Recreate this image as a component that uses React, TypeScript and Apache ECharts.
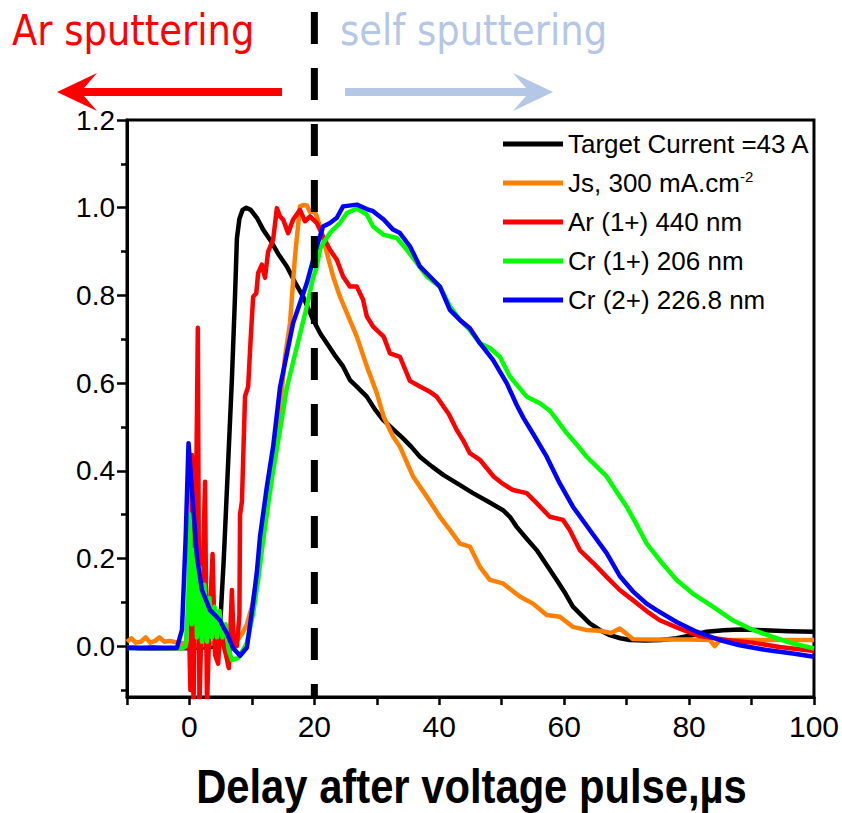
import React, { useEffect, useRef } from "react";
import * as echarts from "echarts";

const seriesNames = [
  "Target Current =43 A",
  "Js, 300 mA.cm-2",
  "Ar (1+) 440 nm",
  "Cr (1+) 206 nm",
  "Cr (2+) 226.8 nm",
];
const seriesColors = ["#000000", "#ff8000", "#ff0000", "#00ff00", "#0000ff"];

const xTickLabels = [0, 20, 40, 60, 80, 100];
const xTicks = [-10, 0, 10, 20, 30, 40, 50, 60, 70, 80, 90, 100];
const yTickLabels = [0, 0.2, 0.4, 0.6, 0.8, 1.0, 1.2];
const yMinorTicks = [-0.1, 0.1, 0.3, 0.5, 0.7, 0.9, 1.1];
const xMin = -10;
const xMax = 100;
const yMin = -0.116;
const yMax = 1.2;
const dividerX = 20;

const targetCurrent = [
  [-10, -0.003], [-8, -0.004], [-6, -0.003], [-4, -0.004], [-2, -0.004], [0, -0.005], [2, -0.003], [3.5, -0.002],
  [4.5, 0.01], [4.9, 0.043], [5.5, 0.2], [6.2, 0.42], [6.8, 0.61], [7.3, 0.8], [7.6, 0.93], [8.0, 0.975], [8.5, 0.995],
  [9.1, 1.0], [9.8, 0.995], [10.8, 0.977], [11.8, 0.95], [12.9, 0.927], [14.2, 0.895], [15.6, 0.866], [16.9, 0.83],
  [18.2, 0.797], [19.8, 0.744], [21, 0.712], [22, 0.691], [23.2, 0.665], [24.6, 0.638], [25.7, 0.607], [26.8, 0.592],
  [28.4, 0.569], [29.7, 0.54], [31, 0.516], [32.6, 0.495], [34.2, 0.474], [35.5, 0.455], [36.9, 0.432], [38.8, 0.41],
  [40.7, 0.39], [43, 0.37], [45.4, 0.349], [47.8, 0.33], [50.2, 0.31], [51.3, 0.295], [52.4, 0.272], [54, 0.245],
  [55.6, 0.219], [57.2, 0.185], [58.8, 0.151], [60.2, 0.12], [61.4, 0.09], [62.8, 0.07], [64.1, 0.052], [65.7, 0.037],
  [67.3, 0.025], [69, 0.018], [70.5, 0.014], [73, 0.013], [75.5, 0.014], [78, 0.018], [80.5, 0.025], [82.8, 0.033],
  [85.5, 0.036], [88.1, 0.038], [92, 0.036], [96, 0.034], [100, 0.033],
];

const jsCurrent = [
  [-10, 0.01], [-9.3, 0.018], [-8.6, 0.008], [-7.8, 0.01], [-7.0, 0.02], [-6.3, 0.008], [-5.5, 0.012], [-4.8, 0.02],
  [-4.0, 0.01], [-3.2, 0.012], [-2.5, 0.01], [-1.5, 0.008], [-0.5, 0.005], [0.5, 0.006], [1.5, 0.0], [3, 0.005],
  [4.5, 0.008], [6, 0.008], [7, 0.01], [7.6, 0.012], [8.5, 0.03], [9.2, 0.05], [10, 0.09], [11, 0.17], [12, 0.27],
  [13, 0.38], [14, 0.49], [14.8, 0.584], [15.3, 0.66], [16.1, 0.737], [16.9, 0.889], [17.4, 0.96], [17.7, 1.003],
  [18.2, 1.006], [18.8, 1.005], [19.3, 0.99], [19.9, 0.995], [20.4, 0.98], [20.9, 0.957], [22, 0.897], [23, 0.843],
  [24.1, 0.797], [25.2, 0.76], [26.8, 0.706], [28.4, 0.638], [30, 0.577], [31.1, 0.523], [32.6, 0.478], [33.7, 0.455],
  [35.8, 0.387], [38, 0.341], [40.1, 0.295], [41.7, 0.265], [43.3, 0.234], [44.9, 0.227], [46.5, 0.181], [48.1, 0.151],
  [50.2, 0.143], [52.9, 0.113], [55, 0.097], [57.2, 0.071], [59.3, 0.067], [61.4, 0.044], [63.5, 0.037], [65.7, 0.035],
  [67.5, 0.03], [68.9, 0.04], [70, 0.028], [71, 0.016], [74, 0.015], [77, 0.015], [80, 0.015], [83.3, 0.014],
  [84.1, 0.0], [84.9, 0.014], [88, 0.014], [92, 0.014], [96, 0.014], [100, 0.014],
];

const ar440 = [
  [-10, -0.003], [-7, -0.005], [-4, -0.004], [-2, -0.005], [-0.5, -0.003], [0, 0.0], [0.15, -0.1], [0.4, 0.436],
  [0.65, -0.14], [1.0, 0.25], [1.34, 0.726], [1.6, -0.14], [2.0, 0.1], [2.5, 0.375], [2.8, -0.14], [3.2, 0.05],
  [3.7, 0.21], [4.1, -0.02], [4.6, -0.04], [5.0, 0.06], [5.5, 0.0], [6.0, -0.03], [6.3, -0.05], [6.8, 0.128],
  [7.1, 0.0], [7.6, 0.0], [8.0, 0.07], [8.1, 0.3], [8.4, 0.33], [8.9, 0.57], [9.4, 0.592], [9.8, 0.7], [10.2, 0.797],
  [10.7, 0.805], [11, 0.851], [11.6, 0.87], [12.1, 0.84], [12.6, 0.9], [13.4, 0.927], [14, 0.999], [14.5, 0.98],
  [15, 0.973], [15.8, 0.942], [16.6, 0.973], [17.7, 0.995], [18.5, 0.969], [19.3, 0.98], [20.4, 0.965], [21.4, 0.934],
  [22.5, 0.904], [23.6, 0.881], [24.6, 0.843], [25.7, 0.82], [26.8, 0.82], [27.8, 0.79], [28.4, 0.752], [29.4, 0.729],
  [31.1, 0.706], [32.1, 0.668], [33.7, 0.66], [35.3, 0.605], [36.9, 0.592], [38.5, 0.58], [39.6, 0.569], [40.7, 0.546],
  [41.5, 0.53], [42.8, 0.493], [43.8, 0.47], [44.9, 0.44], [46.5, 0.425], [48.7, 0.387], [50.2, 0.37], [51.8, 0.356],
  [54, 0.349], [55.6, 0.326], [57.7, 0.295], [59.8, 0.288], [60.9, 0.265], [62.5, 0.219], [64.7, 0.189], [66.8, 0.158],
  [68.9, 0.128], [71, 0.105], [73.2, 0.08], [75.3, 0.059], [78.5, 0.04], [81.7, 0.023], [86, 0.014], [90.2, 0.008],
  [94.5, -0.002], [100, -0.011],
];

const cr206 = [
  [-10, -0.004], [-6, -0.005], [-3, -0.004], [-1.2, -0.005], [-0.6, 0.0], [-0.2, 0.1], [0.1, 0.3], [0.4, 0.05],
  [0.8, 0.22], [1.2, 0.02], [1.6, 0.18], [2.0, 0.01], [2.4, 0.14], [2.8, 0.01], [3.2, 0.11], [3.6, 0.02], [4.0, 0.09],
  [4.4, 0.02], [4.8, 0.08], [5.3, 0.02], [5.8, 0.05], [6.3, -0.01], [6.8, -0.032], [7.8, -0.027], [8.5, -0.01],
  [9.2, 0.007], [10.2, 0.075], [11, 0.151], [11.7, 0.23], [12.4, 0.303], [13.4, 0.4], [14.5, 0.493], [15.6, 0.59],
  [17.2, 0.683], [18.8, 0.775], [19.8, 0.84], [20.4, 0.866], [20.9, 0.905], [21.4, 0.919], [22.5, 0.942], [23, 0.95],
  [24.1, 0.965], [25.2, 0.988], [26.8, 0.998], [28.4, 0.984], [29.4, 0.957], [31.1, 0.938], [33.2, 0.931], [34.8, 0.904],
  [36.4, 0.874], [38, 0.843], [40.1, 0.82], [41.7, 0.775], [43.3, 0.744], [44.9, 0.721], [46.5, 0.691], [48.1, 0.68],
  [49.7, 0.66], [51.3, 0.615], [54, 0.569], [56.1, 0.554], [57.7, 0.537], [60.4, 0.486], [62, 0.46], [63.6, 0.432],
  [66.8, 0.387], [68.5, 0.35], [70, 0.318], [71.5, 0.28], [73.2, 0.234], [75.3, 0.196], [78, 0.151], [80.6, 0.12],
  [83.8, 0.09], [87, 0.059], [89.7, 0.04], [93.4, 0.021], [96.6, 0.006], [100, -0.005],
];

const cr2268 = [
  [-10, -0.004], [-6, -0.005], [-3, -0.004], [-2, -0.004], [-1.2, 0.037], [-0.6, 0.25], [-0.15, 0.463], [0.4, 0.356],
  [1.2, 0.204], [2, 0.128], [3.3, 0.082], [4.9, 0.059], [5.4, 0.044], [6, 0.029], [7, -0.005], [8.1, -0.022],
  [9.2, -0.003], [10.2, 0.1], [10.8, 0.17], [11.3, 0.25], [12.4, 0.364], [13.4, 0.455], [14.5, 0.59], [16.6, 0.737],
  [18.8, 0.828], [20.4, 0.912], [21.4, 0.957], [22.5, 0.965], [23.6, 0.977], [24.6, 1.003], [26.8, 1.007], [28.4, 0.997],
  [29.4, 0.992], [31.1, 0.973], [32.6, 0.95], [33.7, 0.942], [35.3, 0.912], [36.9, 0.866], [38.5, 0.843], [40.1, 0.82],
  [41.7, 0.767], [43.3, 0.744], [44.9, 0.725], [46.5, 0.691], [48.6, 0.653], [50.8, 0.6], [52.4, 0.55], [53.5, 0.52],
  [55, 0.485], [57.2, 0.432], [59.3, 0.371], [61.4, 0.318], [64.1, 0.265], [66.8, 0.212], [68.9, 0.16], [71, 0.125],
  [73.2, 0.097], [74.8, 0.082], [78, 0.055], [81.2, 0.033], [84.9, 0.014], [88.1, 0.002], [92.4, -0.009], [96.6, -0.017],
  [100, -0.024],
];

const seriesData = [targetCurrent, jsCurrent, ar440, cr206, cr2268];

const LABEL_FONT = "'Liberation Sans', Arial, sans-serif";

export default function App() {
  const ref = useRef<HTMLDivElement>(null);

  useEffect(() => {
    document.body.style.margin = "0";
    if (!ref.current) return;
    const chart = echarts.init(ref.current, undefined, { renderer: "svg" });

    const option: any = {
      animation: false,
      backgroundColor: "#ffffff",
      grid: {
        left: 127,
        right: 28,
        top: 120,
        bottom: 116,
        show: true,
        borderColor: "#000",
        borderWidth: 3,
        backgroundColor: "transparent",
      },
      legend: {
        orient: "vertical",
        left: 503,
        top: 129,
        padding: 0,
        itemGap: 9,
        itemWidth: 60,
        itemHeight: 5,
        icon: "rect",
        data: seriesNames,
        formatter: (name: string) =>
          name === "Js, 300 mA.cm-2" ? "Js, 300 mA.cm{sup|-2}" : name,
        textStyle: {
          fontFamily: LABEL_FONT,
          fontSize: 26,
          color: "#000",
          lineHeight: 30,
          rich: {
            sup: {
              fontFamily: LABEL_FONT,
              fontSize: 15,
              color: "#000",
              padding: [0, 0, 14, 0],
            },
          },
        },
      },
      xAxis: {
        type: "value",
        min: xMin,
        max: xMax,
        splitLine: { show: false },
        axisLine: { show: true, onZero: false, lineStyle: { color: "#000", width: 3 } },
        axisTick: {
          show: true,
          customValues: xTicks,
          length: 8,
          inside: false,
          lineStyle: { color: "#000", width: 2.5 },
        },
        axisLabel: {
          customValues: xTickLabels,
          margin: 14,
          fontFamily: LABEL_FONT,
          fontSize: 30,
          color: "#000",
          formatter: (v: number) => String(v),
        },
      },
      yAxis: [
        {
          type: "value",
          min: yMin,
          max: yMax,
          position: "left",
          splitLine: { show: false },
          axisLine: { show: true, onZero: false, lineStyle: { color: "#000", width: 3 } },
          axisTick: {
            show: true,
            customValues: yTickLabels,
            length: 10,
            lineStyle: { color: "#000", width: 2.5 },
          },
          axisLabel: {
            customValues: yTickLabels,
            margin: 12,
            fontFamily: LABEL_FONT,
            fontSize: 28,
            color: "#000",
            formatter: (v: number) => v.toFixed(1),
          },
        },
        {
          type: "value",
          min: yMin,
          max: yMax,
          position: "left",
          offset: 0,
          splitLine: { show: false },
          axisLine: { show: false, onZero: false },
          axisTick: {
            show: true,
            customValues: yMinorTicks,
            length: 6,
            lineStyle: { color: "#000", width: 2.5 },
          },
          axisLabel: { show: false },
        },
      ],
      series: seriesNames.map((name, i) => ({
        name,
        type: "line",
        data: seriesData[i],
        showSymbol: false,
        symbol: "none",
        clip: true,
        color: seriesColors[i],
        lineStyle: { color: seriesColors[i], width: 4.5, join: "round" },
        z: 2 + i,
      })),
    };

    chart.setOption(option);

    const px = chart.convertToPixel({ xAxisIndex: 0 }, dividerX) as number;
    const bottom = chart.convertToPixel({ yAxisIndex: 0 }, yMin) as number;
    const left = chart.convertToPixel({ xAxisIndex: 0 }, xMin) as number;
    const right = chart.convertToPixel({ xAxisIndex: 0 }, xMax) as number;

    chart.setOption({
      graphic: [
        {
          type: "line",
          z: 100,
          shape: { x1: px, y1: 12, x2: px, y2: bottom },
          style: { stroke: "#000", lineWidth: 7, lineDash: [32, 24], lineCap: "butt" },
        },
        {
          type: "text",
          x: 12,
          y: 30,
          scaleX: 0.88,
          style: {
            text: "Ar sputtering",
            font: "42px 'DejaVu Sans', Verdana, sans-serif",
            fill: "#ff0000",
            textAlign: "left",
            textVerticalAlign: "middle",
          },
        },
        {
          type: "text",
          x: 340,
          y: 30,
          scaleX: 0.88,
          style: {
            text: "self sputtering",
            font: "42px 'DejaVu Sans', Verdana, sans-serif",
            fill: "#b4c7e7",
            textAlign: "left",
            textVerticalAlign: "middle",
          },
        },
        {
          type: "polygon",
          shape: {
            points: [
              [57, 92], [97, 73], [84, 88], [282, 88], [282, 96], [84, 96], [97, 111],
            ],
          },
          style: { fill: "#ff0000" },
        },
        {
          type: "polygon",
          shape: {
            points: [
              [553, 92], [513, 73], [526, 88], [345, 88], [345, 96], [526, 96], [513, 111],
            ],
          },
          style: { fill: "#b4c7e7" },
        },
        {
          type: "text",
          x: (left + right) / 2 + 1,
          y: 786,
          scaleX: 0.87,
          style: {
            text: "Delay after voltage pulse,\u00b5s",
            font: "bold 48px 'Liberation Sans', Arial, sans-serif",
            fill: "#000",
            textAlign: "center",
            textVerticalAlign: "middle",
          },
        },
      ],
    });

    return () => chart.dispose();
  }, []);

  return <div ref={ref} style={{ width: 842, height: 813 }} />;
}
